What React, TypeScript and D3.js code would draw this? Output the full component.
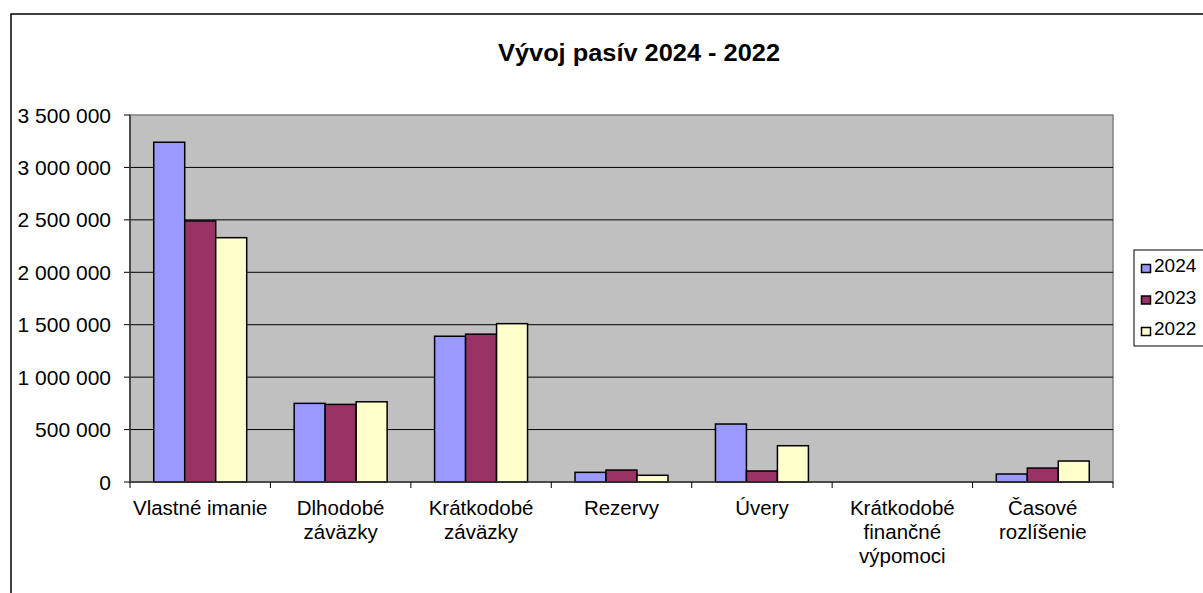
import React from "react";
import * as d3 from "d3";

const categories: string[][] = [
  ["Vlastné imanie"],
  ["Dlhodobé", "záväzky"],
  ["Krátkodobé", "záväzky"],
  ["Rezervy"],
  ["Úvery"],
  ["Krátkodobé", "finančné", "výpomoci"],
  ["Časové", "rozlíšenie"],
];
const seriesNames = ["2024", "2023", "2022"];
const values2024 = [3240000, 750000, 1390000, 92000, 553000, 0, 76000];
const values2023 = [2490000, 740000, 1410000, 114000, 105000, 0, 133000];
const values2022 = [2330000, 765000, 1510000, 64000, 346000, 0, 200000];
const yTicks = [0, 500000, 1000000, 1500000, 2000000, 2500000, 3000000, 3500000];
const colors = ["#9999FF", "#993366", "#FFFFCC"];

const W = 1203;
const H = 593;
const plot = { left: 130, right: 1113, top: 115, bottom: 482 };
const font = "'Liberation Sans', Arial, sans-serif";

export default function App() {
  const series = [values2024, values2023, values2022];
  const x = d3
    .scaleBand<number>()
    .domain(d3.range(categories.length))
    .range([plot.left, plot.right])
    .paddingInner(0)
    .paddingOuter(0);
  const groupW = x.bandwidth() * 0.662;
  const xs = d3
    .scaleBand<number>()
    .domain(d3.range(series.length))
    .range([(x.bandwidth() - groupW) / 2, (x.bandwidth() + groupW) / 2]);
  const y = d3.scaleLinear().domain([0, 3500000]).range([plot.bottom, plot.top]);
  const fmt = (v: number) => d3.format(",")(v).replace(/,/g, " ");

  return (
    <svg
      width={W}
      height={H}
      style={{ position: "absolute", left: 0, top: 0, background: "#fff" }}
      fontFamily={font}
    >
      <rect x={11} y={14} width={W + 20} height={H + 20} fill="#fff" stroke="#000" strokeWidth={1.5} />
      <text x={639} y={61} textAnchor="middle" fontSize={23} fontWeight="bold" fill="#000" textLength={282} lengthAdjust="spacingAndGlyphs">
        Vývoj pasív 2024 - 2022
      </text>
      <rect
        x={plot.left}
        y={plot.top}
        width={plot.right - plot.left}
        height={plot.bottom - plot.top}
        fill="#C0C0C0"
        stroke="#808080"
        strokeWidth={1.5}
      />
      {yTicks.map((t) => (
        <g key={t}>
          {t > 0 && t < 3500000 && (
            <line x1={plot.left} x2={plot.right} y1={y(t)} y2={y(t)} stroke="#000" strokeWidth={1} />
          )}
          <line x1={plot.left - 6} x2={plot.left} y1={y(t)} y2={y(t)} stroke="#000" strokeWidth={1} />
          <text x={plot.left - 19} y={y(t) + 7.5} textAnchor="end" fontSize={21} fill="#000">
            {fmt(t)}
          </text>
        </g>
      ))}
      {series.map((vals, si) =>
        vals.map((v, ci) => {
          if (v <= 0) return null;
          const bx = (x(ci) as number) + (xs(si) as number);
          return (
            <rect
              key={`${si}-${ci}`}
              x={bx}
              y={y(v)}
              width={xs.bandwidth()}
              height={plot.bottom - y(v)}
              fill={colors[si]}
              stroke="#000"
              strokeWidth={1.5}
            />
          );
        })
      )}
      <line x1={plot.left} x2={plot.left} y1={plot.top} y2={plot.bottom} stroke="#333" strokeWidth={1.5} />
      <line x1={plot.left} x2={plot.right} y1={plot.bottom} y2={plot.bottom} stroke="#333" strokeWidth={1.5} />
      {d3.range(categories.length + 1).map((i) => {
        const tx = plot.left + i * x.step();
        return <line key={i} x1={tx} x2={tx} y1={plot.bottom} y2={plot.bottom + 6} stroke="#000" />;
      })}
      {categories.map((lines, ci) => (
        <text
          key={ci}
          x={(x(ci) as number) + x.bandwidth() / 2}
          y={515}
          textAnchor="middle"
          fontSize={20.5}
          fill="#000"
        >
          {lines.map((l, li) => (
            <tspan key={li} x={(x(ci) as number) + x.bandwidth() / 2} dy={li === 0 ? 0 : 24}>
              {l}
            </tspan>
          ))}
        </text>
      ))}
      <rect x={1134} y={250} width={70} height={96} fill="#fff" stroke="#000" strokeWidth={1} />
      {seriesNames.map((n, i) => (
        <g key={n}>
          <rect x={1141.5} y={264.5 + i * 31.5} width={9} height={8} fill={colors[i]} stroke="#000" strokeWidth={1.5} />
          <text x={1154} y={272 + i * 31.5} fontSize={19} fill="#000">
            {n}
          </text>
        </g>
      ))}
    </svg>
  );
}
